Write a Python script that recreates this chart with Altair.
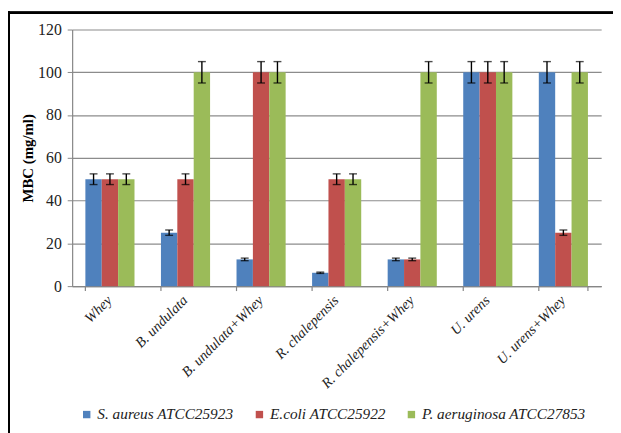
import altair as alt
import pandas as pd

categories = ["Whey", "B. undulata", "B. undulata+Whey", "R. chalepensis",
              "R. chalepensis+Whey", "U. urens", "U. urens+Whey"]
series = ["S. aureus ATCC25923", "E.coli ATCC25922", "P. aeruginosa ATCC27853"]
colors = ["#4F81BD", "#C0504D", "#9BBB59"]

s_aureus = [50, 25, 12.5, 6.25, 12.5, 100, 100]
e_coli = [50, 50, 100, 50, 12.5, 100, 25]
p_aeruginosa = [50, 100, 100, 50, 100, 100, 100]

s_aureus_err = [2.5, 1.25, 0.6, 0.3, 0.6, 5, 5]
e_coli_err = [2.5, 2.5, 5, 2.5, 0.6, 5, 1.25]
p_aeruginosa_err = [2.5, 5, 5, 2.5, 5, 5, 5]

y_ticks = [0, 20, 40, 60, 80, 100, 120]

rows = []
for name, vals, errs in zip(series, [s_aureus, e_coli, p_aeruginosa],
                            [s_aureus_err, e_coli_err, p_aeruginosa_err]):
    for c, v, e in zip(categories, vals, errs):
        rows.append({"cat": c, "series": name, "value": v, "lo": v - e, "hi": v + e})
df = pd.DataFrame(rows)
cat_df = pd.DataFrame({"cat": categories})
last_df = pd.DataFrame({"cat": categories[-1:]})

W, H = 536, 260
FONT = "Liberation Serif"

x_axis = alt.Axis(title=None, labelAngle=-45, labelAlign="right",
                  labelBaseline="middle", labelPadding=12,
                  labelFont=FONT, labelFontStyle="italic",
                  labelFontSize=14.5, labelColor="#222222",
                  ticks=False, grid=False, domainColor="#868686", domainWidth=1.2)
y_axis = alt.Axis(title="MBC (mg/ml)", values=y_ticks)
x_scale = alt.Scale(paddingInner=0.35, paddingOuter=0.175)
y_scale = alt.Scale(domain=[0, 120])

x_enc = alt.X("cat:N", sort=categories, scale=x_scale, axis=x_axis)
xoff = alt.XOffset("series:N", sort=series,
                   scale=alt.Scale(paddingInner=0, paddingOuter=0))

bars = alt.Chart(df).mark_bar().encode(
    x=x_enc,
    xOffset=xoff,
    y=alt.Y("value:Q", scale=y_scale, axis=y_axis),
    color=alt.Color("series:N", sort=series,
                    scale=alt.Scale(domain=series, range=colors),
                    legend=alt.Legend(title=None, orient="none", direction="horizontal",
                                      legendX=7, legendY=382,
                                      symbolType="square", symbolSize=56,
                                      symbolStrokeWidth=0, labelLimit=400,
                                      labelFont=FONT, labelFontStyle="italic",
                                      labelFontSize=15.5, labelColor="#222222",
                                      labelOffset=3, columnPadding=18, padding=0)),
)

err_rule = alt.Chart(df).mark_rule(color="black", strokeWidth=1.4).encode(
    x=x_enc, xOffset=xoff,
    y=alt.Y("lo:Q", scale=y_scale, axis=y_axis), y2="hi:Q")
cap_lo = alt.Chart(df).mark_tick(color="black", thickness=1.4, size=8).encode(
    x=x_enc, xOffset=xoff, y=alt.Y("lo:Q", scale=y_scale, axis=y_axis))
cap_hi = alt.Chart(df).mark_tick(color="black", thickness=1.4, size=8).encode(
    x=x_enc, xOffset=xoff, y=alt.Y("hi:Q", scale=y_scale, axis=y_axis))

ticks = alt.Chart(cat_df).mark_rule(color="#868686", strokeWidth=1.2).encode(
    x=alt.X("cat:N", sort=categories, bandPosition=0, scale=x_scale, axis=x_axis),
    y=alt.value(H), y2=alt.value(H + 5))
tick_end = alt.Chart(last_df).mark_rule(color="#868686", strokeWidth=1.2).encode(
    x=alt.X("cat:N", sort=categories, bandPosition=1, scale=x_scale, axis=x_axis),
    y=alt.value(H), y2=alt.value(H + 5))

frame_left = alt.Chart(cat_df).mark_rule(color="black", strokeWidth=2).encode(
    x=alt.value(-64), y=alt.value(-18), y2=alt.value(420))
frame_top = alt.Chart(cat_df).mark_rule(color="black", strokeWidth=2).encode(
    x=alt.value(-65), x2=alt.value(560), y=alt.value(-17))

chart = alt.layer(bars, err_rule, cap_lo, cap_hi, ticks, tick_end,
                  frame_left, frame_top).properties(
    width=W, height=H,
    autosize=alt.AutoSizeParams(type="none"),
    padding={"left": 65, "top": 19, "right": 12, "bottom": 146},
    background="white",
).configure_view(stroke=None).configure_axisY(
    titleFont=FONT, titleFontWeight="bold",
    titleFontSize=15, titleColor="#000000", titlePadding=2,
    labelFont=FONT, labelFontSize=16, labelColor="#222222",
    labelPadding=6, tickSize=5, tickColor="#868686",
    domainColor="#868686", domainWidth=1.2,
    grid=True, gridColor="#8c8c8c", gridWidth=1.2
).configure_legend(
    labelFont=FONT, labelFontStyle="italic"
)

chart.save("out.html", embed_options={"renderer": "svg", "actions": False})
